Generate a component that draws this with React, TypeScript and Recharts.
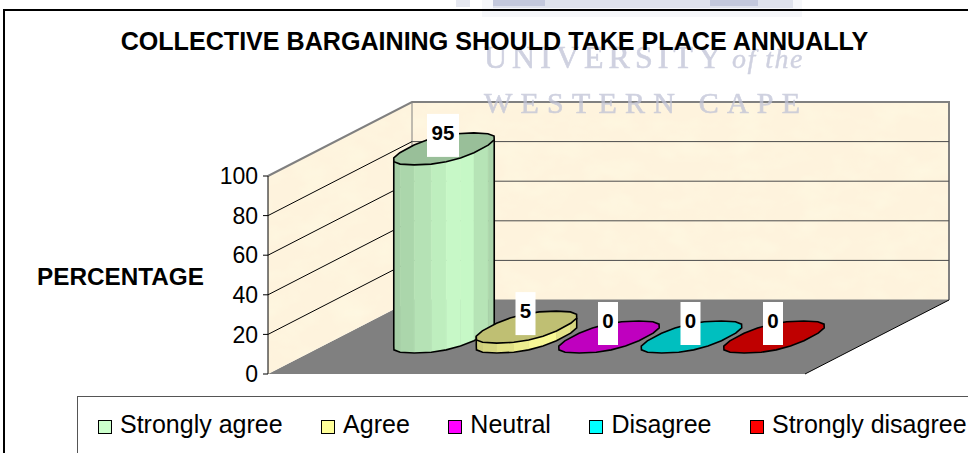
import React from 'react';
import { BarChart, Bar, XAxis, YAxis, CartesianGrid, Legend, LabelList } from 'recharts';

const categories = ['Collective bargaining annually'];
const seriesNames = ['Strongly agree', 'Agree', 'Neutral', 'Disagree', 'Strongly disagree'];
const seriesValues = [95, 5, 0, 0, 0];
const seriesColors = ['#CCFFCC', '#FFFF99', '#FF00FF', '#00FFFF', '#FF0000'];
const yTicks = [0, 20, 40, 60, 80, 100];

const chartData = categories.map((name) => {
    const row: Record<string, string | number> = { name };
    seriesNames.forEach((s, i) => {
        row[s] = seriesValues[i];
    });
    return row;
});

const FONT = '"Liberation Sans", Arial, sans-serif';
const SERIF = '"Liberation Serif", serif';
const WIDTH = 968;
const HEIGHT = 453;
// front plane of the fake 3D box
const PLOT = { left: 268, right: 805, top: 176, bottom: 374 };
// offset from the front plane to the back wall
const DEPTH_X = 144;
const DEPTH_Y = -74;

const shade = (hex: string, f: number): string => {
    const n = parseInt(hex.slice(1), 16);
    const c = [(n >> 16) & 255, (n >> 8) & 255, n & 255].map((v) => Math.round(v * f));
    return `rgb(${c[0]},${c[1]},${c[2]})`;
};

const soften = (v: number): number => Math.sign(v) * Math.pow(Math.abs(v), 0.82);

// skewed disc, as seen on the floor plane
const discPoints = (cx: number, cy: number, w: number, steps = 18): [number, number][] => {
    const pts: [number, number][] = [];
    for (let i = 0; i < steps; i++) {
        const t = (i / steps) * Math.PI * 2 + Math.PI / steps;
        const c = soften(Math.cos(t));
        const s = soften(Math.sin(t));
        pts.push([cx + w * 0.368 * c + w * 0.292 * s, cy - w * 0.157 * s]);
    }
    return pts;
};

const toPath = (pts: [number, number][]): string => pts.map((p) => p.join(',')).join(' ');

const Cylinder = (props: any) => {
    const { x, y, width, height, fill } = props;
    const cx = x + width / 2 + DEPTH_X / 2;
    const topY = y + DEPTH_Y / 2;
    const h = Math.max(height, 0);
    const top = discPoints(cx, topY, width);

    // front half of the disc gives the side facets
    const facets: React.ReactNode[] = [];
    if (h > 0) {
        let minI = 0;
        let maxI = 0;
        top.forEach((p, i) => {
            if (p[0] < top[minI][0]) minI = i;
            if (p[0] > top[maxI][0]) maxI = i;
        });
        const front: [number, number][] = [];
        for (let i = minI; ; i = (i + 1) % top.length) {
            front.push(top[i]);
            if (i === maxI) break;
        }
        if (front.length > 1) {
            for (let i = 0; i < front.length - 1; i++) {
                const a = front[i];
                const b = front[i + 1];
                const u = ((a[0] + b[0]) / 2 - front[0][0]) / (front[front.length - 1][0] - front[0][0]);
                const f = u < 0.68 ? 0.8 + (u / 0.68) * 0.2 : 1 - ((u - 0.68) / 0.32) * 0.18;
                const col = shade(fill, f);
                facets.push(
                    <polygon
                        key={i}
                        points={toPath([a, b, [b[0], b[1] + h], [a[0], a[1] + h]])}
                        fill={col}
                        stroke={col}
                        strokeWidth={0.5}
                    />,
                );
            }
            const outline: [number, number][] = [
                front[0],
                ...front.map((p): [number, number] => [p[0], p[1] + h]),
                front[front.length - 1],
            ];
            facets.push(
                <polyline key="edge" points={toPath(outline)} fill="none" stroke="#000" strokeWidth={1.6} />,
            );
        }
    }

    return (
        <g>
            {facets}
            <polygon points={toPath(top)} fill={shade(fill, 0.75)} stroke="#000" strokeWidth={1.6} />
        </g>
    );
};

const ValueTag = (props: any) => {
    const { x, y, width, value } = props;
    const cx = x + width / 2 + DEPTH_X / 2;
    const topY = y + DEPTH_Y / 2;
    const boxW = String(value).length > 1 ? 32 : 20;
    return (
        <g>
            <rect x={cx - boxW / 2 - 1} y={topY - 35} width={boxW} height={43} fill="#fff" />
            <text x={cx - 1} y={topY - 9} textAnchor="middle" fontFamily={FONT} fontWeight="bold" fontSize={20.5} fill="#000">
                {value}
            </text>
        </g>
    );
};

// walls, floor, title and the scanned page marks behind the chart
const Backdrop = () => {
    const { left, right, top, bottom } = PLOT;
    const backLeft = left + DEPTH_X;
    const backRight = right + DEPTH_X;
    const backTop = top + DEPTH_Y;
    const backBottom = bottom + DEPTH_Y;
    return (
        <g>
            <defs>
                <filter id="parchment" x="0" y="0" width="100%" height="100%">
                    <feTurbulence type="fractalNoise" baseFrequency="0.03 0.05" numOctaves="3" seed="4" result="n" />
                    <feColorMatrix
                        in="n"
                        type="matrix"
                        values="0 0 0 0 0.99  0 0 0 0 0.94  0 0 0 0 0.76  0 0 0 1.6 -0.6"
                        result="tint"
                    />
                    <feComposite in="tint" in2="SourceAlpha" operator="in" result="clipped" />
                    <feMerge>
                        <feMergeNode in="SourceGraphic" />
                        <feMergeNode in="clipped" />
                    </feMerge>
                </filter>
            </defs>

            {/* crest at the page top */}
            <rect x={482} y={0} width={320} height={17} fill="#f6f7fa" />
            <rect x={493} y={0} width={300} height={8} fill="#dfe2ec" />
            <rect x={493} y={0} width={52} height={6} fill="#c3c8dc" />
            <rect x={710} y={0} width={48} height={6} fill="#c3c8dc" />
            <rect x={456} y={0} width={14} height={7} fill="#e6e8f0" />

            <rect x={4} y={10} width={WIDTH + 10} height={HEIGHT + 10} fill="none" stroke="#000" strokeWidth={2} />

            <polygon
                points={toPath([[left, bottom], [backLeft, backBottom], [backRight, backBottom], [right, bottom]])}
                fill="#808080"
            />
            <polygon
                points={toPath([[left, top], [backLeft, backTop], [backLeft, backBottom], [left, bottom]])}
                fill="#FEF3DD"
                filter="url(#parchment)"
            />
            <rect
                x={backLeft}
                y={backTop}
                width={backRight - backLeft}
                height={backBottom - backTop}
                fill="#FEF3DD"
                filter="url(#parchment)"
            />
            <polyline
                points={toPath([[left, top], [backLeft, backTop], [backRight, backTop], [backRight, backBottom]])}
                fill="none"
                stroke="#808080"
                strokeWidth={2}
            />
            <line x1={backLeft} y1={backTop} x2={backLeft} y2={backBottom} stroke="#808080" strokeWidth={1} />
            <line x1={backLeft} y1={backBottom} x2={backRight} y2={backBottom} stroke="#808080" strokeWidth={1} />
            <line x1={right} y1={bottom} x2={backRight} y2={backBottom} stroke="#000" strokeWidth={1} />

            {/* watermark */}
            <text x={484} y={68} fontFamily={SERIF} fontSize={32} fill="#bfc2d6" stroke="#bfc2d6" strokeWidth={0.6} opacity={0.75} letterSpacing={5}>
                UNIVERSITY
            </text>
            <text x={732} y={68} fontFamily={SERIF} fontSize={28} fontStyle="italic" fill="#bfc2d6" stroke="#bfc2d6" strokeWidth={0.4} opacity={0.75} letterSpacing={1.5}>
                of the
            </text>
            <text x={484} y={113} fontFamily={SERIF} fontSize={30} fill="#bfc2d6" stroke="#bfc2d6" strokeWidth={0.6} opacity={0.75} letterSpacing={8.2}>
                WESTERN CAPE
            </text>

            <text x={494.5} y={50} textAnchor="middle" fontFamily={FONT} fontWeight="bold" fontSize={25.1} fill="#000">
                COLLECTIVE BARGAINING SHOULD TAKE PLACE ANNUALLY
            </text>
            <text x={37} y={285} fontFamily={FONT} fontWeight="bold" fontSize={24.3} fill="#000">
                PERCENTAGE
            </text>
        </g>
    );
};

// gridlines bend along the side wall and carry on across the back wall
const WallGridLine = (props: any) => {
    const { x1, y1, x2 } = props;
    if (Math.abs(y1 - PLOT.top) < 1 || Math.abs(y1 - PLOT.bottom) < 1) return <g />;
    return (
        <g>
            <line x1={x1} y1={y1} x2={x1 + DEPTH_X} y2={y1 + DEPTH_Y} stroke="#000" strokeWidth={1} />
            <line x1={x1 + DEPTH_X} y1={y1 + DEPTH_Y} x2={x2 + DEPTH_X} y2={y1 + DEPTH_Y} stroke="#4a4a4a" strokeWidth={1} />
        </g>
    );
};

const LegendBox = ({ payload }: any) => (
    <div
        style={{
            display: 'flex',
            alignItems: 'center',
            height: 55,
            paddingLeft: 20,
            boxSizing: 'border-box',
            whiteSpace: 'nowrap',
            fontFamily: FONT,
            fontSize: 25,
            color: '#000',
            background: '#fff',
        }}
    >
        {(payload || []).map((entry: any) => (
            <span key={entry.value} style={{ display: 'flex', alignItems: 'center', marginRight: 38.5 }}>
                <span
                    style={{
                        display: 'inline-block',
                        width: 12,
                        height: 12,
                        border: '1.5px solid #000',
                        background: entry.color,
                        marginRight: 8,
                        marginTop: 4,
                    }}
                />
                {entry.value}
            </span>
        ))}
    </div>
);

const App: React.FC = () => {
    return (
        <div style={{ position: 'absolute', left: 0, top: 0, width: WIDTH, height: HEIGHT, overflow: 'hidden', background: '#fff' }}>
            <BarChart
                width={WIDTH}
                height={HEIGHT}
                data={chartData}
                barSize={102}
                barGap={-19.5}
                margin={{ top: PLOT.top, right: WIDTH - PLOT.right, bottom: HEIGHT - PLOT.bottom, left: PLOT.left - 60 }}
                style={{ fontFamily: FONT }}
            >
                <Backdrop />
                <CartesianGrid vertical={false} zIndex={100} horizontal={(p: any) => <WallGridLine key={p.key} {...p} />} />
                <XAxis dataKey="name" height={0} tick={false} tickLine={false} axisLine={{ stroke: '#000' }} />
                <YAxis
                    width={60}
                    domain={[0, 100]}
                    ticks={yTicks}
                    interval={0}
                    tickSize={5}
                    tickMargin={5}
                    tick={{ fontSize: 23, fill: '#000', fontFamily: FONT }}
                    tickLine={{ stroke: '#000' }}
                    axisLine={{ stroke: '#000' }}
                />
                <Legend
                    layout="horizontal"
                    verticalAlign="middle"
                    align="center"
                    itemSorter={null}
                    content={<LegendBox />}
                    wrapperStyle={{
                        position: 'absolute',
                        left: 77,
                        top: 396,
                        width: 960,
                        height: 70,
                        border: '1px solid #555',
                        background: '#fff',
                    }}
                />
                {seriesNames.map((s, i) => (
                    <Bar
                        key={s}
                        dataKey={s}
                        name={s}
                        fill={seriesColors[i]}
                        shape={<Cylinder />}
                        isAnimationActive={false}
                        zIndex={s === 'Agree' ? 410 : 400}
                    >
                        <LabelList dataKey={s} content={<ValueTag />} />
                    </Bar>
                ))}
            </BarChart>
        </div>
    );
};

export default App;
